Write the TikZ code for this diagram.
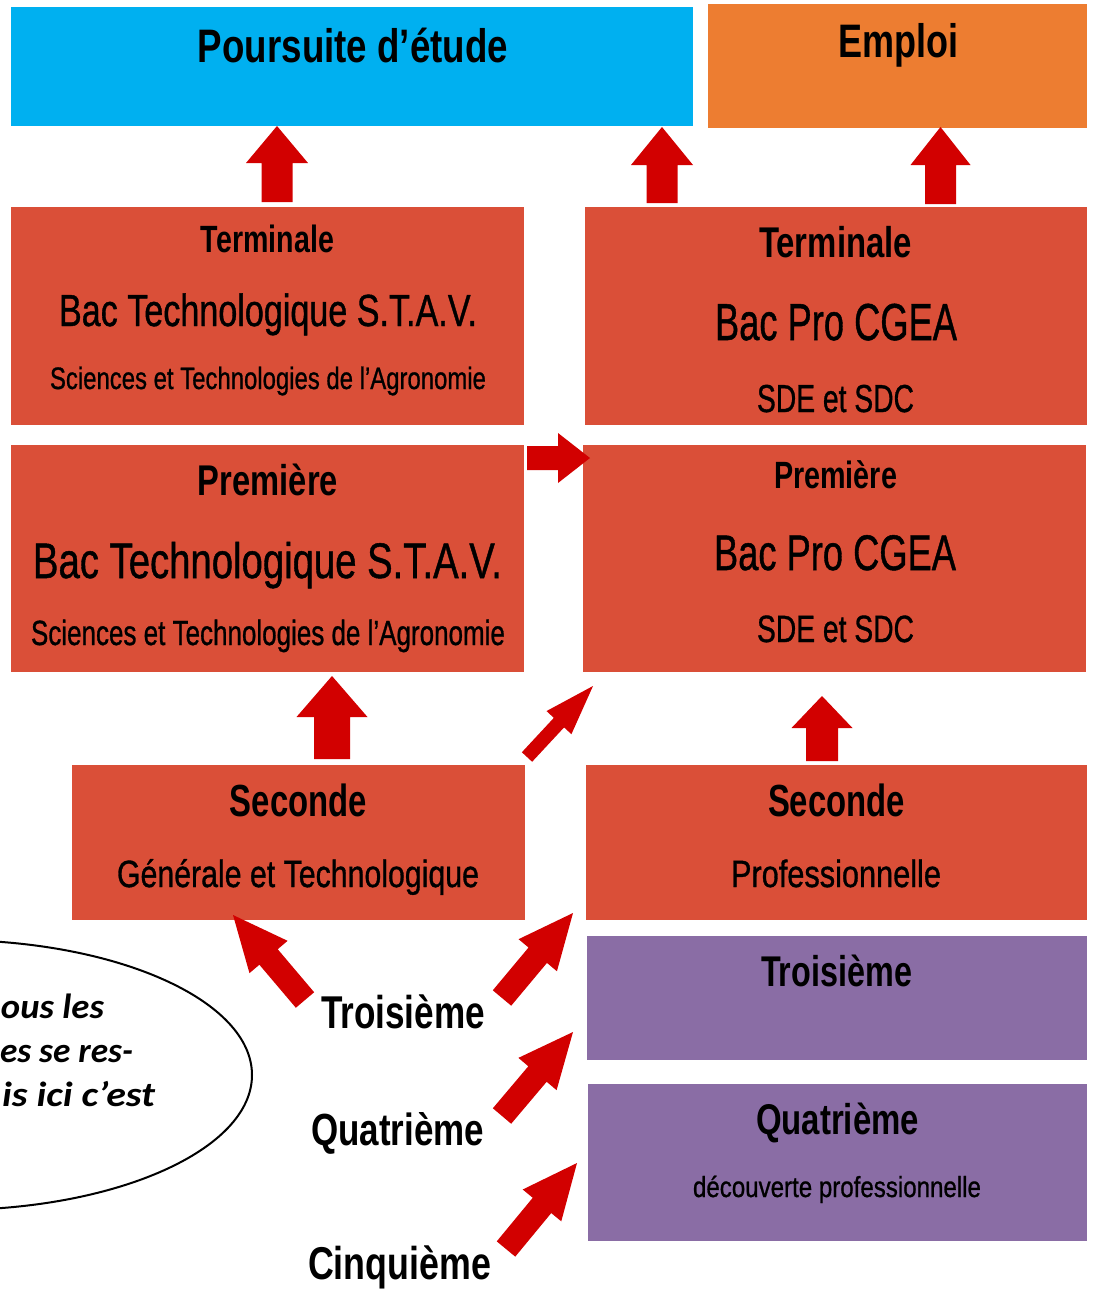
\documentclass[tikz,border=0pt]{standalone}
\usepackage{fontspec}
\setmainfont{Liberation Sans}
\newfontfamily\medfont{Liberation Sans}[FakeBold=1]
\newfontfamily\carlito{Carlito}
\usepackage{graphicx}
\usetikzlibrary{calc}
\definecolor{boxred}{HTML}{DA4F38}
\definecolor{arrowred}{HTML}{D20000}
\definecolor{skyblue}{HTML}{00B0F0}
\definecolor{orangebox}{HTML}{ED7D31}
\definecolor{purplebox}{HTML}{8A6DA5}
\newcommand\wtxt[2]{\resizebox{#1}{\height}{#2}}
\newcommand\fsz[1]{\fontsize{#1}{#1}\selectfont}
\newcommand\barrow[6]{%
  \coordinate (#6n) at ($(#2)!#5!(#1)$);
  \fill[arrowred] ($(#1)!#3!90:(#2)$) -- ($(#6n)!#3!90:(#2)$) -- ($(#6n)!#4!90:(#2)$) -- (#2)
    -- ($(#6n)!#4!-90:(#2)$) -- ($(#6n)!#3!-90:(#2)$) -- ($(#1)!#3!-90:(#2)$) -- cycle;}
\tikzset{
  blk/.style={inner sep=0pt, outer sep=0pt, anchor=north west, draw=none},
  redbox/.style={blk, fill=boxred},
  purplebx/.style={blk, fill=purplebox},
  txt/.style={inner sep=0pt, outer sep=0pt, anchor=base, text=black},
}
\begin{document}
\begin{tikzpicture}[x=1pt,y=-1pt]
\useasboundingbox (0,0) rectangle (1094,1291);
\clip (0,0) rectangle (1094,1291);

% top boxes
\node[blk, fill=skyblue, minimum width=682pt, minimum height=119pt] (pe) at (11,7) {};
\node[blk, fill=orangebox, minimum width=379pt, minimum height=124pt] (em) at (708,4) {};
\node[txt] (pet) at (353,62) {\fsz{47}\bfseries\wtxt{310pt}{Poursuite d’étude}};
\node[txt] (emt) at (898,57) {\fsz{47}\bfseries\wtxt{120pt}{Emploi}};

% terminale
\node[redbox, minimum width=513pt, minimum height=218pt] (tl) at (11,207) {};
\node[txt] (tl1) at (267.5,252) {\fsz{38}\bfseries\wtxt{133pt}{Terminale}};
\node[txt] (tl2) at (268,326) {\medfont\fsz{45}\wtxt{418pt}{Bac Technologique S.T.A.V.}};
\node[txt] (tl3) at (268,389) {\medfont\fsz{31}\wtxt{436pt}{Sciences et Technologies de l’Agronomie}};

\node[redbox, minimum width=502pt, minimum height=218pt] (tr) at (585,207) {};
\node[txt] (tr1) at (835.5,257) {\fsz{43}\bfseries\wtxt{153pt}{Terminale}};
\node[txt] (tr2) at (836,340) {\medfont\fsz{52}\wtxt{242pt}{Bac Pro CGEA}};
\node[txt] (tr3) at (835.5,412) {\medfont\fsz{39}\wtxt{157pt}{SDE et SDC}};

% premiere
\node[redbox, minimum width=513pt, minimum height=227pt] (pl) at (11,445) {};
\node[txt] (pl1) at (268,495) {\fsz{43}\bfseries\wtxt{140pt}{Première}};
\node[txt] (pl2) at (267.5,578) {\medfont\fsz{50}\wtxt{469pt}{Bac Technologique S.T.A.V.}};
\node[txt] (pl3) at (268,645) {\medfont\fsz{35}\wtxt{474pt}{Sciences et Technologies de l’Agronomie}};

\node[redbox, minimum width=503pt, minimum height=227pt] (pr) at (583,445) {};
\node[txt] (pr1) at (835.5,488) {\fsz{38}\bfseries\wtxt{123pt}{Première}};
\node[txt] (pr2) at (835,570) {\medfont\fsz{50}\wtxt{242pt}{Bac Pro CGEA}};
\node[txt] (pr3) at (835.5,642) {\medfont\fsz{38}\wtxt{157pt}{SDE et SDC}};

% seconde
\node[redbox, minimum width=453pt, minimum height=155pt] (sl) at (72,765) {};
\node[txt] (sl1) at (298.5,816) {\fsz{45}\bfseries\wtxt{137pt}{Seconde}};
\node[txt] (sl2) at (298,887) {\medfont\fsz{38}\wtxt{362pt}{Générale et Technologique}};

\node[redbox, minimum width=501pt, minimum height=155pt] (sr) at (586,765) {};
\node[txt] (sr1) at (836.5,816) {\fsz{45}\bfseries\wtxt{137pt}{Seconde}};
\node[txt] (sr2) at (836,887) {\medfont\fsz{38}\wtxt{210pt}{Professionnelle}};

% purple boxes
\node[purplebx, minimum width=500pt, minimum height=124pt] (tb) at (587,936) {};
\node[txt] (tb1) at (836.5,986) {\fsz{43}\bfseries\wtxt{151pt}{Troisième}};
\node[purplebx, minimum width=499pt, minimum height=157pt] (qb) at (588,1084) {};
\node[txt] (qb1) at (837.5,1134) {\fsz{43}\bfseries\wtxt{163pt}{Quatrième}};
\node[txt] (qb2) at (837,1197) {\medfont\fsz{29}\wtxt{288pt}{découverte professionnelle}};

% left labels
\node[txt] (l3) at (403,1028) {\fsz{46}\bfseries\wtxt{164pt}{Troisième}};
\node[txt] (l4) at (397.5,1145) {\fsz{45}\bfseries\wtxt{173pt}{Quatrième}};
\node[txt] (l5) at (399.5,1279) {\fsz{46}\bfseries\wtxt{183pt}{Cinquième}};

% ellipse
\draw[line width=2pt] (-50,1075) ellipse [x radius=302, y radius=135];
\node[txt, anchor=base west] (e1) at (1,1018) {\carlito\fsz{35}\bfseries\itshape\wtxt{103pt}{ous les}};
\node[txt, anchor=base west] (e2) at (0,1062) {\carlito\fsz{35}\bfseries\itshape\wtxt{133pt}{es se res-}};
\node[txt, anchor=base west] (e3) at (2,1106) {\carlito\fsz{35}\bfseries\itshape\wtxt{153pt}{is ici c’est}};

% arrow end points
\coordinate (a1s) at (277,202);  \coordinate (a1e) at (277,126);
\coordinate (a2s) at (662,203);  \coordinate (a2e) at (662,127);
\coordinate (a3s) at (940.5,204); \coordinate (a3e) at (940.5,127);
\coordinate (a4s) at (527,458);  \coordinate (a4e) at (590,458);
\coordinate (a5s) at (332,759);  \coordinate (a5e) at (332,676);
\coordinate (a6s) at (527,757);  \coordinate (a6e) at (593,686);
\coordinate (a7s) at (822,761);  \coordinate (a7e) at (822,696);
\coordinate (a8s) at (305,1000); \coordinate (a8e) at (233,915);
\coordinate (a9s) at (502,998);  \coordinate (a9e) at (573,913);
\coordinate (a10s) at (502,1116); \coordinate (a10e) at (573,1032);
\coordinate (a11s) at (506,1249); \coordinate (a11e) at (577,1163);

\barrow{a1s}{a1e}{15.5pt}{31pt}{37pt}{a1}
\barrow{a2s}{a2e}{15.5pt}{31pt}{38pt}{a2}
\barrow{a3s}{a3e}{15.5pt}{30pt}{38pt}{a3}
\barrow{a4s}{a4e}{12pt}{25pt}{32pt}{a4}
\barrow{a5s}{a5e}{18pt}{35.5pt}{41pt}{a5}
\barrow{a6s}{a6e}{7pt}{17pt}{50pt}{a6}
\barrow{a7s}{a7e}{16pt}{30.5pt}{32pt}{a7}
\barrow{a8s}{a8e}{12pt}{25pt}{55pt}{a8}
\barrow{a9s}{a9e}{12pt}{25pt}{55pt}{a9}
\barrow{a10s}{a10e}{12pt}{25pt}{55pt}{a10}
\barrow{a11s}{a11e}{12pt}{25pt}{55pt}{a11}
\end{tikzpicture}
\end{document}
